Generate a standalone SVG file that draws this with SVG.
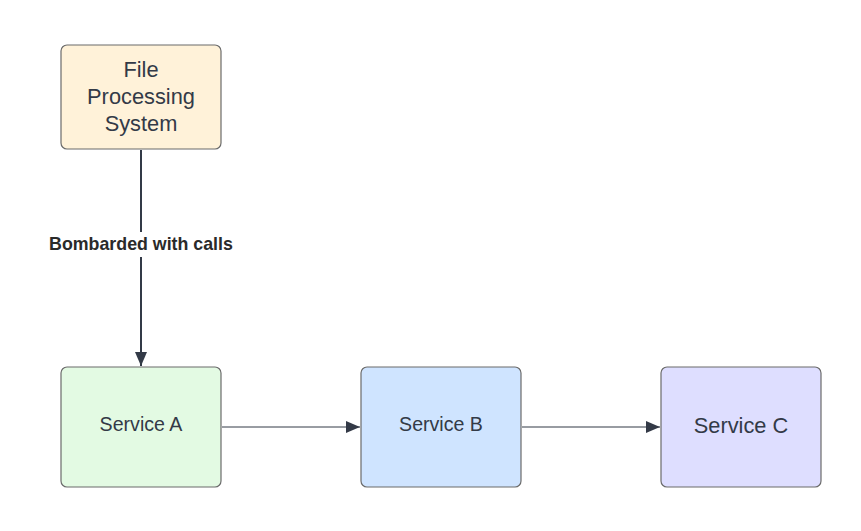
<svg xmlns="http://www.w3.org/2000/svg" width="861" height="531" viewBox="0 0 861 531">
<style>
.box{stroke:#6b6b6b;stroke-width:1.2}
.t{font-family:"Liberation Sans",Arial,sans-serif;fill:#333a47;text-anchor:middle}
.c{stroke:#333a47;fill:none}
</style>
<defs>
<marker id="ah" viewBox="0 0 14 12" refX="14" refY="6" markerWidth="14" markerHeight="12" markerUnits="userSpaceOnUse" orient="auto">
<path d="M0,0 L14,6 L0,12 Z" fill="#333a47"/>
</marker>
</defs>
<rect width="861" height="531" fill="#ffffff"/>
<g id="connectors">
<line class="c" x1="141" y1="150" x2="141" y2="366" stroke-width="2" marker-end="url(#ah)"/>
<rect x="44" y="232" width="194" height="25" fill="#ffffff"/>
<text x="141" y="250" class="t" font-size="17.8" font-weight="bold" style="fill:#2a2a2a">Bombarded with calls</text>
<line class="c" x1="222" y1="427" x2="360" y2="427" stroke-width="1" marker-end="url(#ah)"/>
<line class="c" x1="522" y1="427" x2="660" y2="427" stroke-width="1.2" marker-end="url(#ah)"/>
</g>
<g id="file-processing">
<rect class="box" x="61" y="45" width="160" height="104" rx="6" fill="#fff2d9"/>
<text class="t" font-size="21.8" x="141" y="77">File</text>
<text class="t" font-size="21.8" x="141" y="104">Processing</text>
<text class="t" font-size="21.8" x="141" y="131">System</text>
</g>
<g id="service-a">
<rect class="box" x="61" y="367" width="160" height="120" rx="6" fill="#e3fae3"/>
<text class="t" font-size="19.6" x="141" y="431">Service A</text>
</g>
<g id="service-b">
<rect class="box" x="361" y="367" width="160" height="120" rx="6" fill="#cfe4ff"/>
<text class="t" font-size="19.6" x="441" y="431">Service B</text>
</g>
<g id="service-c">
<rect class="box" x="661" y="367" width="160" height="120" rx="6" fill="#dedeff"/>
<text class="t" font-size="21.8" x="741" y="433">Service C</text>
</g>
</svg>
